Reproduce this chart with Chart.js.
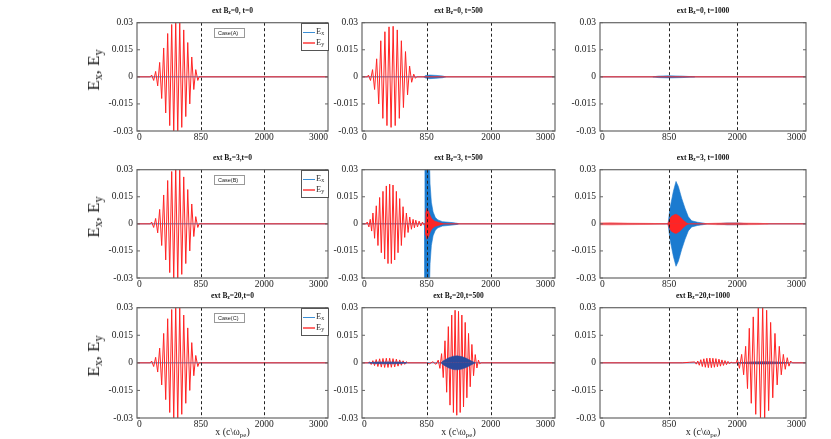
<!DOCTYPE html>
<html>
<head>
<meta charset="utf-8">
<script src="https://cdn.jsdelivr.net/npm/chart.js@4.4.0/dist/chart.umd.min.js"></script>
<style>
  body { margin: 0; background: #fff; }
  #fig { position: relative; width: 831px; height: 439px; overflow: hidden; }
  #fig canvas { position: absolute; }
  .ttl { position: absolute; font: bold 7.5px 'Liberation Serif'; color: #111; white-space: nowrap; transform: translateX(-50%); }
  .ttl sub, .xl sub, .yl sub, .leg sub { font-size: 70%; vertical-align: -0.25em; }
  .yl { position: absolute; font: 17px 'Liberation Serif'; color: #111; white-space: nowrap; transform: translate(-50%, -50%) rotate(-90deg); }
  .xl { position: absolute; font: 10px 'Liberation Serif'; color: #222; white-space: nowrap; transform: translateX(-50%); }
  .leg { position: absolute; width: 28px; height: 28px; border: 1px solid #555; background: #fff; box-sizing: border-box; font: 8.5px 'Liberation Serif'; color: #333; }
  .leg .r { position: absolute; left: 1px; white-space: nowrap; }
  .leg .sw { display: inline-block; width: 12px; vertical-align: middle; margin-right: 1px; }
  .case { position: absolute; width: 31px; height: 10px; border: 1px solid #999; box-sizing: border-box; font: 5.5px 'Liberation Sans'; line-height: 8px; padding-left: 3px; color: #222; background: #fff; }
</style>
</head>
<body>
<div id="fig"></div>
<script>
// ---------- axes ----------
const xTickValues = [0, 1005, 2000, 3000];
const xTickLabels = ['0', '850', '2000', '3000'];
const markerLines = [1005, 2000];
const yTickValues = [-0.03, -0.015, 0, 0.015, 0.03];
const yTickLabels = ['-0.03', '-0.015', '0', '0.015', '0.03'];

// ---------- labels ----------
const panelTitles = [
  ['=0, t=0', '=0, t=500', '=0, t=1000'],
  ['=3,t=0', '=3, t=500', '=3, t=1000'],
  ['=20,t=0', '=20,t=500', '=20,t=1000']
];
const caseLabels = ['Case(A)', 'Case(B)', 'Case(C)'];

// ---------- data: Ey extrema (x, value) ----------
const eyFlat = [[0, 0], [3000, 0]];
const exFlat = [[0, 0], [3000, 0]];

// t=0 pulse (same for all three Bz)
const eyStart = [[0, 0], [210, 0], [230, 0.001], [262, -0.002], [293, 0.003], [325, -0.005], [356, 0.008],
  [388, -0.012], [419, 0.016], [451, -0.02], [482, 0.024], [514, -0.027], [545, 0.029], [577, -0.031],
  [608, 0.031], [640, -0.031], [671, 0.03], [703, -0.028], [734, 0.026], [766, -0.022], [797, 0.019],
  [829, -0.015], [860, 0.011], [892, -0.007], [923, 0.004], [955, -0.002], [975, 0], [3000, 0]];

// Bz=0, t=500
const eyA500 = [[0, 0], [85, 0], [100, 0.001], [132, -0.002], [164, 0.004], [196, -0.007], [228, 0.01],
  [260, -0.015], [292, 0.02], [324, -0.023], [356, 0.025], [388, -0.027], [420, 0.0277], [452, -0.028],
  [484, 0.028], [516, -0.027], [548, 0.026], [580, -0.023], [612, 0.02], [644, -0.017], [676, 0.014],
  [708, -0.01], [740, 0.006], [772, -0.003], [804, 0.0015], [830, -0.0008], [850, 0], [3000, 0]];
const exA500Env = [[960, 0], [990, 0.0007], [1050, 0.001], [1150, 0.0008], [1250, 0.0005], [1300, 0]];

// Bz=0, t=1000
const exA1000Env = [[770, 0], [850, 0.0004], [1000, 0.0006], [1200, 0.0004], [1380, 0]];

// Bz=3, t=500
const eyB500 = [[0, 0], [65, 0], [81, 0.001], [107, -0.0017], [128, 0.0025], [150, -0.004], [170, 0.006],
  [196, -0.008], [222, 0.01], [248, -0.012], [274, 0.0146], [300, -0.016], [326, 0.018], [352, -0.0195],
  [378, 0.021], [404, -0.022], [430, 0.022], [456, -0.022], [482, 0.0215], [508, -0.02], [534, 0.018],
  [560, -0.016], [586, 0.014], [612, -0.012], [638, 0.0095], [664, -0.0075], [690, 0.006], [716, -0.0048],
  [742, 0.0038], [768, -0.003], [794, 0.0025], [815, -0.0022], [836, 0.002], [862, -0.0017], [888, 0.0015],
  [914, -0.0012], [940, 0.001], [960, -0.0005], [975, 0], [3000, 0]];
const exB500Env = [[972, 0], [978, 0.036], [1048, 0.036], [1058, 0.022], [1078, 0.012], [1105, 0.0066],
  [1140, 0.0035], [1180, 0.0022], [1250, 0.0012], [1400, 0.0007], [1480, 0.0003], [1500, 0]];
const eyB500Env = [[983, 0], [990, 0.006], [1010, 0.0085], [1035, 0.007], [1060, 0.0045], [1085, 0.0028],
  [1130, 0.0015], [1210, 0.0006], [1260, 0]];

// Bz=3, t=1000
const exB1000Env = [[990, 0], [995, 0.0011], [1019, 0.0086], [1068, 0.0179], [1107, 0.0235], [1141, 0.0207],
  [1189, 0.0142], [1238, 0.0086], [1286, 0.0039], [1335, 0.0017], [1420, 0.0009], [1510, 0.0004], [1550, 0]];
const eyB1000Env = [[990, 0], [995, 0.0008], [1019, 0.003], [1043, 0.0042], [1092, 0.0052], [1116, 0.0052],
  [1165, 0.004], [1213, 0.002], [1252, 0.0008], [1280, 0]];
const eyB1000Left = [[0, 0.0006], [150, 0.0007], [400, 0.0005], [700, 0.0003], [950, 0]];
const eyB1000Far = [[1500, 0], [1700, 0.0005], [2000, 0.0006], [2300, 0.0004], [2450, 0]];
const exB1000Far = [[1700, 0], [1850, 0.0005], [2000, 0.0005], [2150, 0]];

// Bz=20, t=500
const eyC500 = [[0, 0], [100, 0], [117, 0.0006], [143, -0.0009], [169, 0.0012], [195, -0.0015], [221, 0.0018],
  [247, -0.002], [274, 0.0022], [300, -0.0023], [326, 0.0024], [352, -0.0025], [378, 0.0025], [404, -0.0025],
  [430, 0.0025], [456, -0.0024], [482, 0.0023], [508, -0.0022], [534, 0.002], [560, -0.0018], [586, 0.0016],
  [612, -0.0013], [638, 0.0011], [664, -0.0008], [690, 0.0006], [710, 0], [1000, 0], [1050, -0.0005],
  [1100, 0.0006], [1150, -0.0008], [1185, 0.0015], [1211, -0.003], [1237, 0.005], [1263, -0.008],
  [1290, 0.012], [1316, -0.016], [1342, 0.0197], [1368, -0.023], [1395, 0.026], [1421, -0.027],
  [1447, 0.0286], [1473, -0.0285], [1500, 0.028], [1526, -0.027], [1552, 0.026], [1578, -0.024],
  [1604, 0.022], [1630, -0.019], [1656, 0.016], [1682, -0.013], [1708, 0.01], [1734, -0.007],
  [1760, 0.0045], [1786, -0.0028], [1810, 0.0015], [1830, -0.0005], [1850, 0], [3000, 0]];
const exC500Env = [[1230, 0], [1260, 0.001], [1300, 0.0018], [1350, 0.0028], [1420, 0.0036], [1480, 0.0038],
  [1550, 0.0034], [1620, 0.0025], [1680, 0.0014], [1730, 0.0005], [1760, 0]];
const exC500Left = [[100, 0], [200, 0.0004], [400, 0.0005], [600, 0.0004], [700, 0]];

// Bz=20, t=1000
const eyC1000 = [[0, 0], [1200, 0], [1300, 0.0003], [1380, 0.0005], [1402, -0.0007], [1424, 0.001],
  [1446, -0.0013], [1468, 0.0017], [1490, -0.002], [1512, 0.0022], [1534, -0.0024], [1556, 0.0025],
  [1578, -0.0026], [1600, 0.0026], [1622, -0.0026], [1644, 0.0025], [1666, -0.0024], [1688, 0.0023],
  [1710, -0.0021], [1732, 0.002], [1754, -0.0018], [1776, 0.0016], [1798, -0.0014], [1820, 0.0012],
  [1842, -0.001], [1864, 0.0008], [1886, -0.0006], [1908, 0.0004], [1930, 0], [1985, 0], [2000, 0.002],
  [2031, -0.003], [2063, 0.0046], [2092, -0.0065], [2121, 0.009], [2148, -0.014], [2174, 0.0188],
  [2203, -0.022], [2232, 0.025], [2268, -0.028], [2305, 0.0298], [2337, -0.031], [2369, 0.031],
  [2398, -0.031], [2427, 0.0286], [2456, -0.026], [2485, 0.022], [2516, -0.019], [2548, 0.016],
  [2580, -0.012], [2611, 0.009], [2640, -0.0065], [2670, 0.0046], [2698, -0.0035], [2727, 0.0028],
  [2752, -0.0018], [2777, 0.001], [2800, 0], [3000, 0]];
const exC1000Env = [[2000, 0], [2200, 0.0005], [2400, 0.0006], [2600, 0.0004], [2750, 0]];

// ---------- styling ----------
const RED = '#ff2424';
const BLUE = '#1b7bd0';
const NAVY = '#2b4a9c';
const RED_FAINT = 'rgba(255,70,70,0.55)';

const colLeft = [137, 362, 600], colWidth = [191, 193, 206];
const rowTop = [21, 168, 306], rowHeight = [110, 110, 112];
const YW = 45, PR = 14, PT = 8, XH = 16;

function line(d, color) {
  return { data: d.map(p => ({ x: p[0], y: p[1] })), borderColor: color, borderWidth: 1, fill: false, pointRadius: 0 };
}
function band(env, color) {
  const up = env.map(p => ({ x: p[0], y: p[1] }));
  const dn = env.map(p => ({ x: p[0], y: -p[1] }));
  return [up, dn].map(d => ({ data: d, borderColor: color, backgroundColor: color, borderWidth: 0.6, fill: 'origin', pointRadius: 0 }));
}

const panels = [
  { ey: eyStart, red: [], blue: [] },
  { ey: eyA500, red: [], blue: [[exA500Env, BLUE]] },
  { ey: eyFlat, red: [], blue: [[exA1000Env, BLUE]] },
  { ey: eyStart, red: [], blue: [] },
  { ey: eyB500, red: [[eyB500Env, RED]], blue: [[exB500Env, BLUE]] },
  { ey: eyFlat, red: [[eyB1000Env, RED], [eyB1000Left, RED_FAINT], [eyB1000Far, RED_FAINT]], blue: [[exB1000Env, BLUE], [exB1000Far, BLUE]] },
  { ey: eyStart, red: [], blue: [] },
  { ey: eyC500, red: [], blue: [[exC500Env, NAVY], [exC500Left, NAVY]], blueOnTop: true },
  { ey: eyC1000, red: [], blue: [[exC1000Env, NAVY]] }
];

const framePlugin = {
  id: 'frame',
  afterDatasetsDraw(chart) {
    const { ctx, chartArea: a, scales } = chart;
    ctx.save();
    ctx.strokeStyle = '#222';
    ctx.lineWidth = 1;
    ctx.setLineDash([3, 2.5]);
    markerLines.forEach(v => {
      const px = Math.round(scales.x.getPixelForValue(v)) + 0.5;
      ctx.beginPath(); ctx.moveTo(px, a.top); ctx.lineTo(px, a.bottom); ctx.stroke();
    });
    ctx.setLineDash([]);
    ctx.strokeStyle = '#666';
    ctx.lineWidth = 1.2;
    ctx.strokeRect(a.left, a.top, a.right - a.left, a.bottom - a.top);
    ctx.lineWidth = 1;
    yTickValues.forEach(v => {
      const py = scales.y.getPixelForValue(v);
      ctx.beginPath();
      ctx.moveTo(a.left, py); ctx.lineTo(a.left + 3, py);
      ctx.moveTo(a.right, py); ctx.lineTo(a.right - 3, py);
      ctx.stroke();
    });
    ctx.restore();
  }
};

Chart.defaults.font.family = 'Liberation Serif';
Chart.defaults.color = '#222';

const fig = document.getElementById('fig');

panels.forEach((p, i) => {
  const r = Math.floor(i / 3), c = i % 3;
  const L = colLeft[c], T = rowTop[r], W = colWidth[c], H = rowHeight[r];
  const cw = YW + W + PR, ch = PT + H + XH;
  const cv = document.createElement('canvas');
  cv.width = cw; cv.height = ch;
  cv.style.left = (L - YW) + 'px'; cv.style.top = (T - PT) + 'px';
  cv.style.width = cw + 'px'; cv.style.height = ch + 'px';
  fig.appendChild(cv);

  const redSets = p.red.flatMap(e => band(e[0], e[1]));
  const blueSets = p.blue.flatMap(e => band(e[0], e[1]));
  const datasets = p.blueOnTop
    ? [...blueSets, ...redSets, line(p.ey, RED), line(exFlat, '#3a6fb8')]
    : [...redSets, line(p.ey, RED), ...blueSets, line(exFlat, '#3a6fb8')];

  new Chart(cv, {
    type: 'line',
    data: { datasets },
    options: {
      responsive: false,
      animation: false,
      devicePixelRatio: 1,
      layout: { padding: { left: 0, right: PR, top: PT, bottom: 0 } },
      plugins: { legend: { display: false }, tooltip: { enabled: false }, title: { display: false } },
      elements: { line: { tension: 0 } },
      scales: {
        x: {
          type: 'linear', min: 0, max: 3000,
          grid: { display: false, drawTicks: false }, border: { display: false },
          afterBuildTicks: s => { s.ticks = xTickValues.map(v => ({ value: v })); },
          afterFit: s => { s.height = XH; },
          ticks: { autoSkip: false, maxRotation: 0, align: 'inner', padding: 1, font: { size: 9.5 },
            callback: (v, k) => xTickLabels[k] }
        },
        y: {
          min: -0.03, max: 0.03,
          grid: { display: false, drawTicks: false }, border: { display: false },
          afterBuildTicks: s => { s.ticks = yTickValues.map(v => ({ value: v })); },
          afterFit: s => { s.width = YW; },
          ticks: { padding: 4, font: { size: 9.5 }, callback: (v, k) => yTickLabels[k] }
        }
      }
    },
    plugins: [framePlugin]
  });

  const t = document.createElement('div');
  t.className = 'ttl';
  t.innerHTML = 'ext B<sub>z</sub>' + panelTitles[r][c];
  t.style.left = (L + W / 2) + 'px';
  t.style.top = (T - 15) + 'px';
  fig.appendChild(t);

  if (c === 0) {
    const yl = document.createElement('div');
    yl.className = 'yl';
    yl.innerHTML = 'E<sub>x</sub>, E<sub>y</sub>';
    yl.style.left = '95px';
    yl.style.top = (T + H / 2 - 6) + 'px';
    fig.appendChild(yl);

    const leg = document.createElement('div');
    leg.className = 'leg';
    leg.style.left = (L + W - 27) + 'px';
    leg.style.top = (T + 2) + 'px';
    leg.innerHTML =
      '<div class="r" style="top:2px"><span class="sw" style="height:1px;background:#3b8fd6"></span>E<sub>x</sub></div>' +
      '<div class="r" style="top:13px"><span class="sw" style="height:2px;background:#ff6b6b"></span>E<sub>y</sub></div>';
    fig.appendChild(leg);

    const cs = document.createElement('div');
    cs.className = 'case';
    cs.textContent = caseLabels[r];
    cs.style.left = (L + 77) + 'px';
    cs.style.top = (T + 7) + 'px';
    fig.appendChild(cs);
  }
  if (r === 2) {
    const xl = document.createElement('div');
    xl.className = 'xl';
    xl.innerHTML = 'x (c\\ω<sub>pe</sub>)';
    xl.style.left = (L + W / 2) + 'px';
    xl.style.top = (T + H + 8) + 'px';
    fig.appendChild(xl);
  }
});
</script>
</body>
</html>
